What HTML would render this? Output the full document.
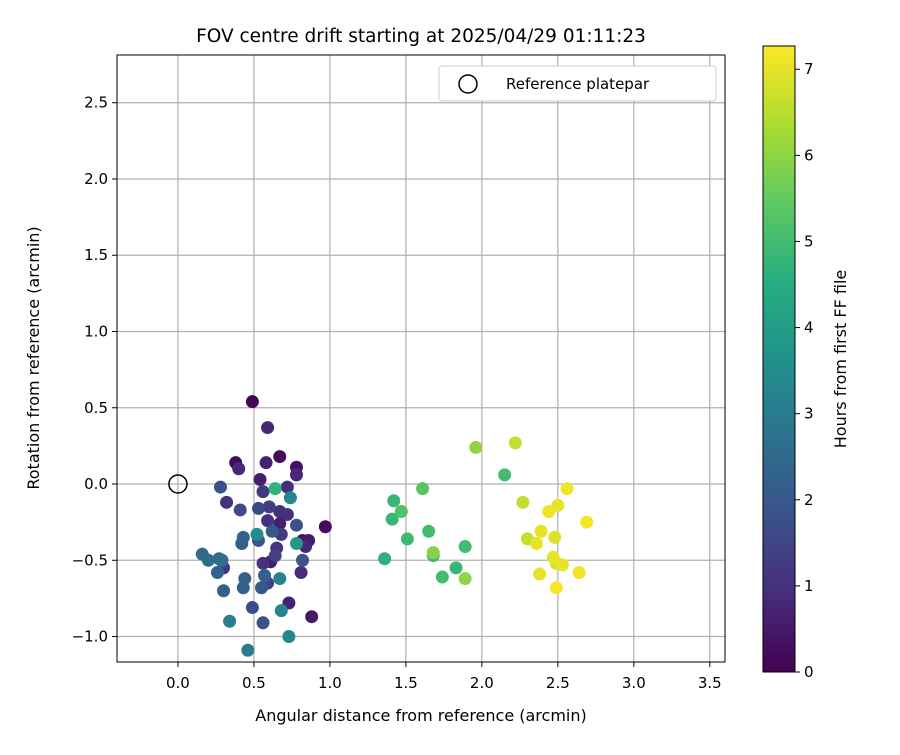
<!DOCTYPE html>
<html><head><meta charset="utf-8"><style>
body{margin:0;background:#fff;font-family:"Liberation Sans","DejaVu Sans",sans-serif;}
svg text{font-family:"DejaVu Sans","Liberation Sans",sans-serif;}
</style></head><body>
<svg id="chart" width="900" height="750" xmlns="http://www.w3.org/2000/svg">
<defs><linearGradient id="vir" x1="0" y1="1" x2="0" y2="0">
<stop offset="0" stop-color="#440154"/><stop offset="0.125" stop-color="#472d7b"/><stop offset="0.25" stop-color="#3b528b"/><stop offset="0.375" stop-color="#2c728e"/><stop offset="0.5" stop-color="#21918c"/><stop offset="0.625" stop-color="#28ae80"/><stop offset="0.75" stop-color="#5ec962"/><stop offset="0.875" stop-color="#addc30"/><stop offset="1" stop-color="#fde725"/></linearGradient></defs>
<text x="421" y="42" font-size="18.5" text-anchor="middle">FOV centre drift starting at 2025/04/29 01:11:23</text>
<g id="grid"></g><g id="pts"></g><g id="axes"></g>
<rect x="117" y="55" width="608" height="607" fill="none" stroke="#000" stroke-width="1"/>
<g>
<rect x="439" y="66" width="277" height="35" rx="3" fill="#fff" stroke="#ccc"/>
<circle cx="468" cy="84" r="9" fill="none" stroke="#000" stroke-width="1.5"/>
<text x="506" y="89" font-size="15">Reference platepar</text></g>
<text x="421" y="721" font-size="16" text-anchor="middle">Angular distance from reference (arcmin)</text>
<text transform="translate(39,358) rotate(-90)" font-size="16" text-anchor="middle">Rotation from reference (arcmin)</text>
<rect x="763" y="46" width="32" height="626" fill="url(#vir)" stroke="#000" stroke-width="1"/>
<g id="cbticks"></g>
<text transform="translate(846,359) rotate(-90)" font-size="16" text-anchor="middle">Hours from first FF file</text>
</svg>
<script>
const xVals=[0.49,0.59,0.38,0.40,0.58,0.67,0.78,0.78,0.28,0.54,0.64,0.56,0.72,0.74,0.32,0.41,0.53,0.60,0.67,0.72,0.59,0.78,0.97,0.67,0.52,0.43,0.42,0.53,0.62,0.68,0.78,0.82,0.86,0.84,0.65,0.64,0.61,0.56,0.16,0.20,0.27,0.29,0.30,0.26,0.82,0.81,0.57,0.67,0.44,0.43,0.59,0.55,0.30,0.73,0.49,0.68,0.88,0.34,0.56,0.73,0.46,
1.96,2.22,2.15,2.56,1.61,1.42,1.47,1.41,2.27,2.50,2.44,2.69,1.65,1.51,2.39,2.48,2.30,2.36,1.89,1.68,1.68,1.36,2.47,2.49,2.53,1.83,1.74,1.89,2.38,2.64,2.49];
const yVals=[0.54,0.37,0.14,0.10,0.14,0.18,0.11,0.06,-0.02,0.03,-0.03,-0.05,-0.02,-0.09,-0.12,-0.17,-0.16,-0.15,-0.18,-0.20,-0.24,-0.27,-0.28,-0.26,-0.33,-0.35,-0.39,-0.37,-0.31,-0.33,-0.39,-0.37,-0.37,-0.41,-0.42,-0.47,-0.51,-0.52,-0.46,-0.50,-0.49,-0.50,-0.55,-0.58,-0.50,-0.58,-0.60,-0.62,-0.62,-0.68,-0.65,-0.68,-0.70,-0.78,-0.81,-0.83,-0.87,-0.90,-0.91,-1.00,-1.09,
0.24,0.27,0.06,-0.03,-0.03,-0.11,-0.18,-0.23,-0.12,-0.14,-0.18,-0.25,-0.31,-0.36,-0.31,-0.35,-0.36,-0.39,-0.41,-0.45,-0.47,-0.49,-0.48,-0.52,-0.53,-0.55,-0.61,-0.62,-0.59,-0.58,-0.68];
const hours=[0.1,0.8,0.2,0.8,0.7,0.2,0.3,0.8,1.8,0.6,4.7,1.2,0.9,3.3,1.0,1.7,1.6,1.3,1.0,1.0,1.0,1.8,0.2,0.6,3.5,2.3,2.1,1.9,2.0,1.2,3.9,0.3,0.5,0.8,1.1,1.4,0.6,1.0,2.5,2.5,2.4,2.6,1.2,2.3,1.9,0.9,2.2,3.2,2.2,2.2,1.4,2.0,2.2,0.7,1.7,3.3,0.5,3.1,1.8,3.3,3.0,
6.0,6.6,5.0,7.1,5.3,4.8,5.2,4.8,6.6,7.0,7.1,7.2,5.0,4.9,7.0,6.9,6.6,7.0,5.0,5.9,5.0,4.6,7.0,6.8,7.0,4.8,5.0,6.0,7.0,7.1,7.2];
const xTicks=["0.0","0.5","1.0","1.5","2.0","2.5","3.0","3.5"];
const yTicks=["−1.0","−0.5","0.0","0.5","1.0","1.5","2.0","2.5"];
const cbTicks=[0,1,2,3,4,5,6,7];
const X0=-0.401,X1=3.6,Y0=-1.167,Y1=2.813,HMAX=7.27;
const sx=v=>117+(v-X0)/(X1-X0)*608, sy=v=>662-(v-Y0)/(Y1-Y0)*607, sc=h=>672-h/HMAX*626;
const NS="http://www.w3.org/2000/svg";
function mk(t,a,p){const e=document.createElementNS(NS,t);for(const k in a)e.setAttribute(k,a[k]);p.appendChild(e);return e;}
const vir=[[68,1,84],[71,45,123],[59,82,139],[44,114,142],[33,145,140],[40,174,128],[94,201,98],[173,220,48],[253,231,37]];
function col(h){let t=Math.max(0,Math.min(1,h/HMAX))*8,i=Math.min(7,Math.floor(t)),f=t-i;const c=vir[i].map((v,k)=>Math.round(v+(vir[i+1][k]-v)*f));return `rgb(${c})`;}
const grid=document.getElementById('grid'),axes=document.getElementById('axes');
xTicks.forEach(s=>{const v=parseFloat(s),x=sx(v);
const l=mk('line',{x1:x,x2:x,y1:55,y2:662,stroke:'#b0b0b0','stroke-width':1.2},grid);

mk('line',{x1:x,x2:x,y1:662,y2:667,stroke:'#000'},axes);
const t=mk('text',{x:x,y:688,'font-size':15,'text-anchor':'middle'},axes);t.textContent=s;
});
yTicks.forEach(s=>{const v=parseFloat(s.replace('−','-')),y=sy(v);
const l=mk('line',{x1:117,x2:725,y1:y,y2:y,stroke:'#b0b0b0','stroke-width':1.2},grid);

mk('line',{x1:112,x2:117,y1:y,y2:y,stroke:'#000'},axes);
const t=mk('text',{x:108,y:y+5,'font-size':15,'text-anchor':'end'},axes);t.textContent=s;
});
cbTicks.forEach(h=>{const y=sc(h);const g=document.getElementById('cbticks');
mk('line',{x1:795,x2:800,y1:y,y2:y,stroke:'#000'},g);
const t=mk('text',{x:804,y:y+5,'font-size':15},g);t.textContent=h;
});
const pts=document.getElementById('pts');
const ref=mk('circle',{cx:sx(0),cy:sy(0),r:9,fill:'none',stroke:'#000','stroke-width':1.5},pts);

const order=hours.map((h,i)=>i).sort((a,b)=>hours[a]-hours[b]);
order.forEach(i=>{const c=mk('circle',{cx:sx(xVals[i]),cy:sy(yVals[i]),r:6.5,fill:col(hours[i])},pts);
});
</script>
</body></html>
